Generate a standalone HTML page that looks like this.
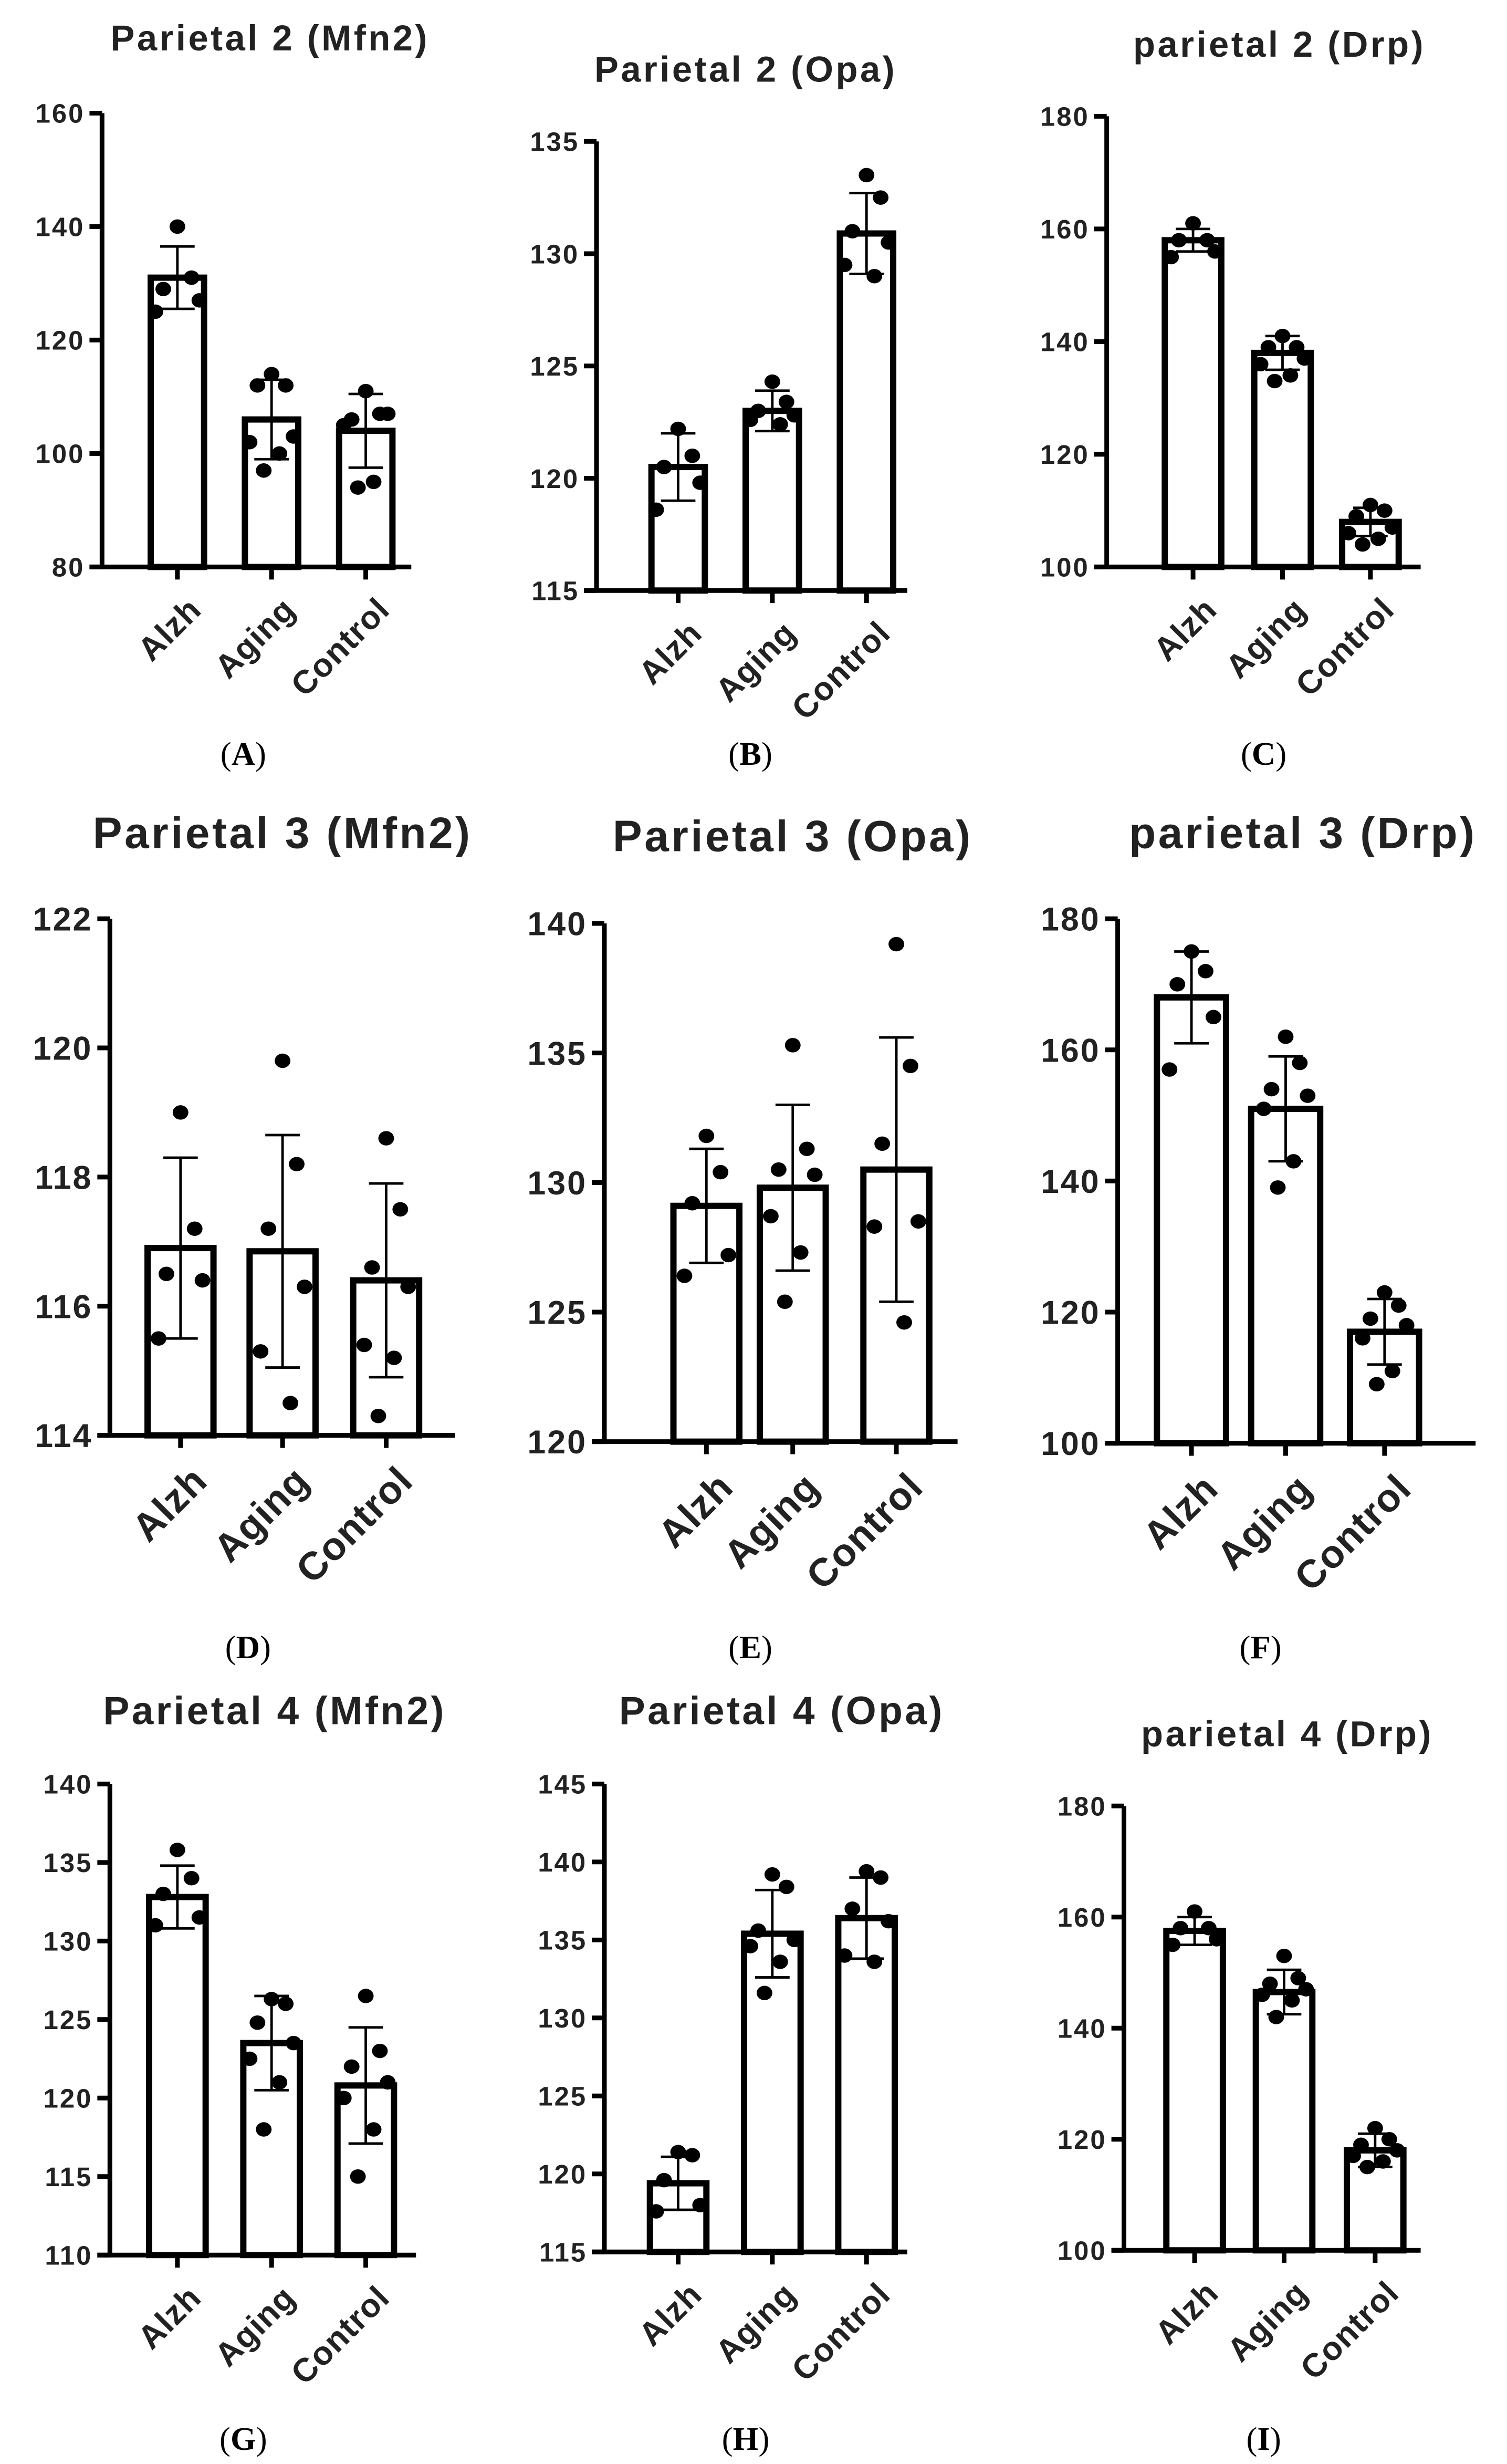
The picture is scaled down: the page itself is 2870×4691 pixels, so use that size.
<!DOCTYPE html>
<html><head><meta charset="utf-8"><style>
html,body{margin:0;padding:0;background:#fff;}
svg{display:block;}
</style></head><body>
<svg id="fig" xmlns="http://www.w3.org/2000/svg" width="2870" height="4691" viewBox="0 0 960 1569"></svg>
<script>
const categories = ["Alzh","Aging","Control"];
const titles = ["Parietal 2 (Mfn2)","Parietal 2 (Opa)","parietal 2 (Drp)","Parietal 3 (Mfn2)","Parietal 3 (Opa)","parietal 3 (Drp)","Parietal 4 (Mfn2)","Parietal 4 (Opa)","parietal 4 (Drp)"];
const panelLetters = ["A","B","C","D","E","F","G","H","I"];
const yTicksA=[80,100,120,140,160], yTicksB=[115,120,125,130,135], yTicksC=[100,120,140,160,180];
const yTicksD=[114,116,118,120,122], yTicksE=[120,125,130,135,140], yTicksF=[100,120,140,160,180];
const yTicksG=[110,115,120,125,130,135,140], yTicksH=[115,120,125,130,135,140,145], yTicksI=[100,120,140,160,180];
const meansA=[131,106,104], sdA=[5.5,7,6.5];
const pointsA=[[140,131,129,127,125],[114,112,112,103,102,100,97],[111,107,106,107,105,95,94]];
const meansB=[120.5,123,130.9], sdB=[1.5,0.9,1.8];
const pointsB=[[122.2,121,120.5,119.8,118.6],[124.3,123.4,123,122.8,122.6,122.4],[133.5,132.5,131,130.5,129.5,129]];
const meansC=[158,138,108], sdC=[2,3,2.5];
const pointsC=[[161,158,158,156,155],[141,139,139,137,136,134,133],[111,110,109,107,106,105,104]];
const meansD=[116.9,116.85,116.4], sdD=[1.4,1.8,1.5];
const pointsD=[[119,117.2,116.5,116.4,115.5],[119.8,118.2,117.2,116.3,115.3,114.5],[118.6,117.5,116.6,116.3,115.4,115.2,114.3]];
const meansE=[129.1,129.8,130.5], sdE=[2.2,3.2,5.1];
const pointsE=[[131.8,130.4,129.2,127.2,126.4],[135.3,131.3,130.5,130.3,128.7,127.3,125.4],[139.2,134.5,131.5,128.5,128.3,124.6]];
const meansF=[168,151,117], sdF=[7,8,5];
const pointsF=[[175,172,170,165,157],[162,158,154,153,151,143,139],[123,121,119,118,116,111,109]];
const meansG=[132.8,123.5,120.8], sdG=[2,3,3.7];
const pointsG=[[135.8,134,133,131.5,131],[126.3,126,124.8,123.5,122.5,121,118],[126.5,123,122,121,120,118,115]];
const meansH=[119.4,135.4,136.4], sdH=[1.7,2.8,2.6];
const pointsH=[[121.4,121.2,119.6,118,117.6],[139.2,138.4,135.6,135,134.6,133.6,131.6],[139.4,139,137,136.2,134,133.6]];
const meansI=[157.5,146.5,118], sdI=[2.5,4,3];
const pointsI=[[161,158,158,156,155],[153,149,148,147,146,145,142],[122,120,119,118,117,116,115]];

const data=[[yTicksA,meansA,sdA,pointsA],[yTicksB,meansB,sdB,pointsB],[yTicksC,meansC,sdC,pointsC],
[yTicksD,meansD,sdD,pointsD],[yTicksE,meansE,sdE,pointsE],[yTicksF,meansF,sdF,pointsF],
[yTicksG,meansG,sdG,pointsG],[yTicksH,meansH,sdH,pointsH],[yTicksI,meansI,sdI,pointsI]];

const layout=[
{ax:65,yb:361,yt:72,cx:[113,173,233],xe:262,tx:172,ty:32,ts:23,fs:17,bw:34,lx:155,ly:487},
{ax:380,yb:376,yt:90,cx:[432,492,552],xe:578,tx:475,ty:52,ts:23,fs:17,bw:34,lx:478,ly:487},
{ax:705,yb:361,yt:74,cx:[760,817,873],xe:905,tx:815,ty:36,ts:23,fs:17,bw:36,lx:805,ly:487},
{ax:70,yb:914,yt:585,cx:[115,180,246],xe:290,tx:180,ty:540,ts:28,fs:21,bw:42,lx:158,ly:1056},
{ax:385,yb:918,yt:588,cx:[450,505,571],xe:610,tx:505,ty:542,ts:28,fs:21,bw:42,lx:478,ly:1056},
{ax:712,yb:919,yt:585,cx:[759,819,882],xe:940,tx:830,ty:540,ts:28,fs:21,bw:44,lx:803,ly:1056},
{ax:70,yb:1436,yt:1136,cx:[113,173,233],xe:265,tx:175,ty:1098,ts:25,fs:17,bw:36,lx:155,ly:1560},
{ax:385,yb:1434,yt:1136,cx:[432,492,552],xe:578,tx:498,ty:1098,ts:25,fs:17,bw:36,lx:475,ly:1560},
{ax:716,yb:1433,yt:1150,cx:[761,818,876],xe:905,tx:820,ty:1112,ts:23,fs:17,bw:36,lx:805,ly:1560}
];
const jitter=[0,9,-9,14,-14,5,-5];
const NS="http://www.w3.org/2000/svg";
const svg=document.getElementById('fig');
function mk(tag,attrs,parent){const e=document.createElementNS(NS,tag);for(const k in attrs)e.setAttribute(k,attrs[k]);parent.appendChild(e);return e;}
const font='"Liberation Sans", Arial, sans-serif';
layout.forEach((L,p)=>{
  const [ticks,means,sds,pts]=data[p];
  const g=mk('g',{},svg);
  
  
  const lo=ticks[0],hi=ticks[ticks.length-1];
  const y=v=>L.yb-(v-lo)/(hi-lo)*(L.yb-L.yt);
  const t=mk('text',{x:L.tx,y:L.ty,'text-anchor':'middle','font-family':font,'font-weight':'bold','font-size':L.ts,'letter-spacing':1.5,fill:'#222'},g);
  t.textContent=titles[p];
  
  
  means.forEach((m,i)=>{
    const r=mk('rect',{x:L.cx[i]-L.bw/2,y:y(m),width:L.bw,height:L.yb-y(m),fill:'#fff',stroke:'#000','stroke-width':4},g);
    
    
  });
  means.forEach((m,i)=>{
    const c=L.cx[i];
    const e=mk('path',{d:`M${c},${y(m+sds[i])}V${y(m-sds[i])}M${c-11},${y(m+sds[i])}H${c+11}M${c-11},${y(m-sds[i])}H${c+11}`,stroke:'#000','stroke-width':1.6,fill:'none'},g);
    
    
  });
  pts.forEach((arr,i)=>arr.forEach((v,j)=>{
    const d=mk('ellipse',{cx:L.cx[i]+jitter[j%jitter.length],cy:y(v),rx:5,ry:4.6,fill:'#000'},g);
    
    
  }));
  const ya=mk('path',{d:`M${L.ax},${L.yt}V${L.yb}`,stroke:'#000','stroke-width':3,fill:'none'},g);
  
  
  const xa=mk('path',{d:`M${L.ax-8},${L.yb}H${L.xe}`,stroke:'#000','stroke-width':3,fill:'none'},g);
  
  
  ticks.forEach(v=>{
    mk('path',{d:`M${L.ax-8},${y(v)}H${L.ax}`,stroke:'#000','stroke-width':3},g);
    const tl=mk('text',{x:L.ax-11,y:y(v)+L.fs*0.36,'text-anchor':'end','font-family':font,'font-weight':'bold','font-size':L.fs,'letter-spacing':1,fill:'#222'},g);
    tl.textContent=v;
    
    
  });
  categories.forEach((c,i)=>{
    mk('path',{d:`M${L.cx[i]},${L.yb}V${L.yb+8}`,stroke:'#000','stroke-width':3},g);
    const lx=L.cx[i]+6, ly=L.yb+18;
    const cl=mk('text',{x:lx,y:ly,'text-anchor':'end','font-family':font,'font-weight':'bold','font-size':L.fs+4,'letter-spacing':0.5,fill:'#222',transform:`rotate(-45 ${lx} ${ly})`,dy:'0.7em'},g);
    cl.textContent=c;
    
    
  });
  const pl=mk('text',{x:L.lx,y:L.ly,'text-anchor':'middle','font-family':'"Liberation Serif", serif','font-size':21,fill:'#000'},g);
  pl.innerHTML='(<tspan font-weight="bold">'+panelLetters[p]+'</tspan>)';
  
  
});
</script>
</body></html>
